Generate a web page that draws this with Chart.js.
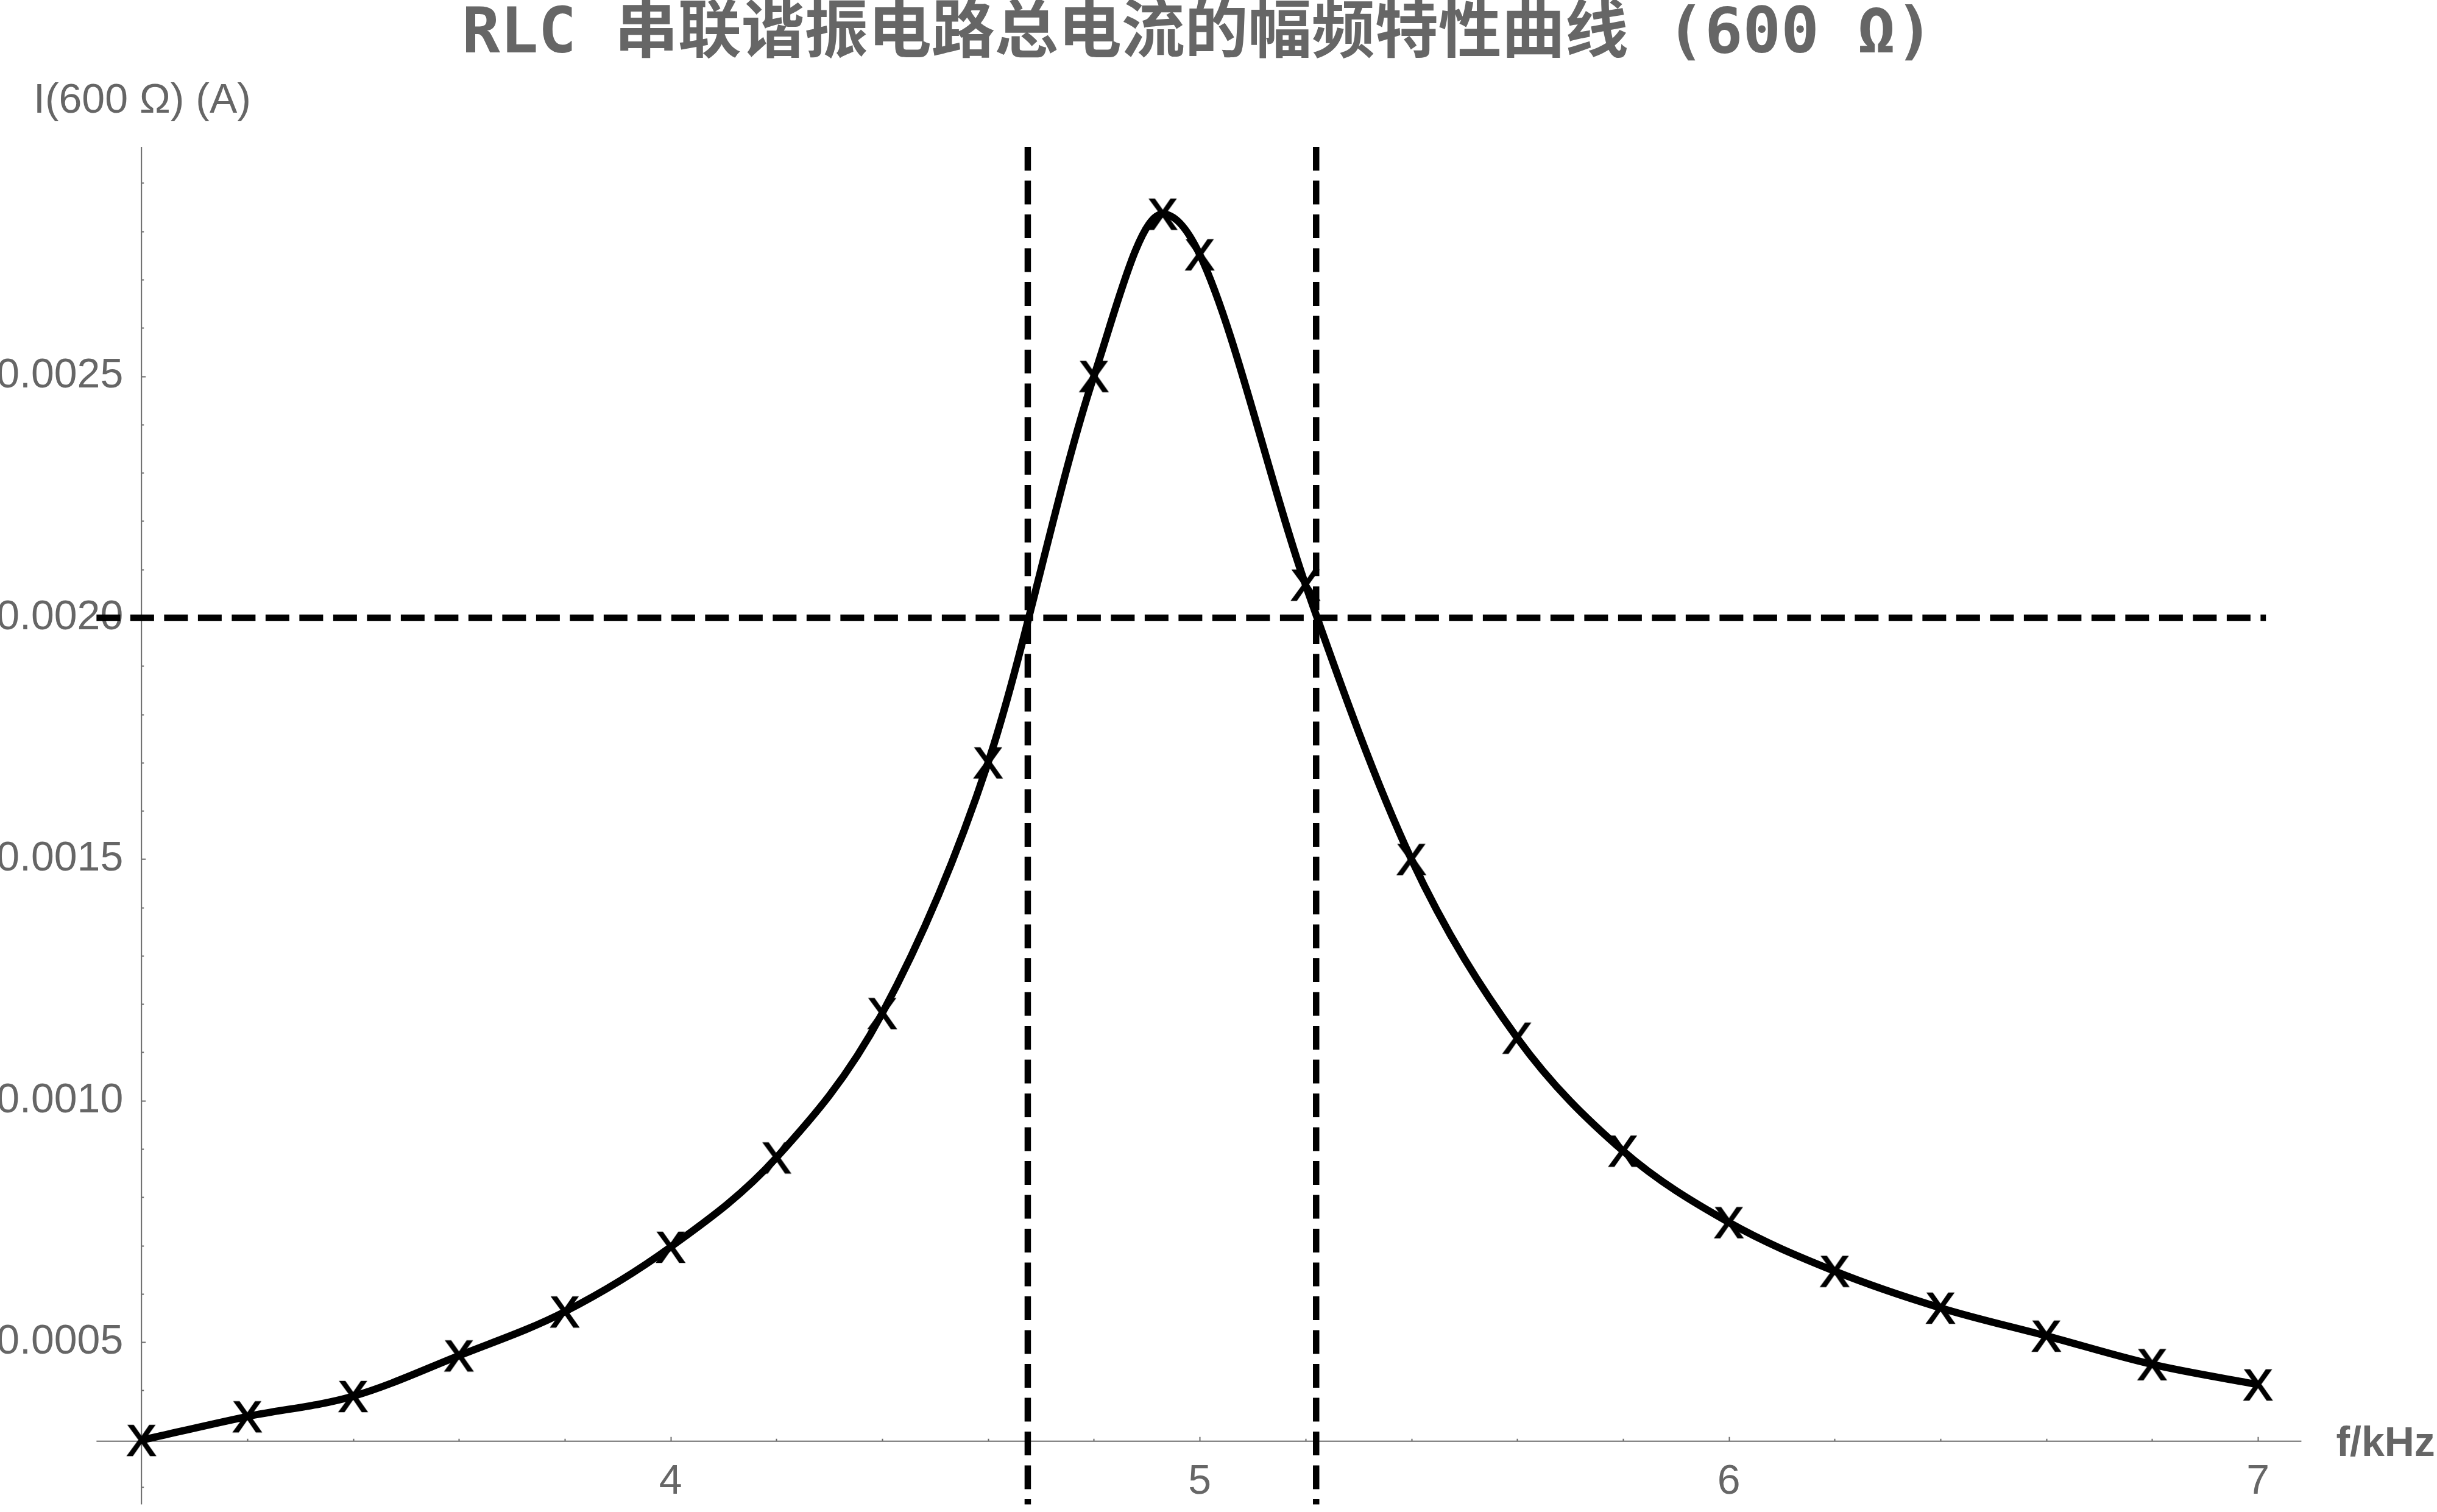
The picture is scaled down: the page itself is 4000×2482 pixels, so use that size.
<!DOCTYPE html>
<html>
<head>
<meta charset="utf-8">
<script src="https://cdn.jsdelivr.net/npm/chart.js@4.4.1/dist/chart.umd.min.js"></script>
<style>
html, body { margin: 0; padding: 0; background: #ffffff; }
#wrap { width: 4000px; height: 2482px; }
</style>
</head>
<body>
<div id="wrap"><canvas id="c" width="4000" height="2482"></canvas></div>
<script>
// ---------- texts ----------
const titleText = 'RLC 串联谐振电路总电流的幅频特性曲线 (600 Ω)';
const yAxisTitle = 'I(600 Ω) (A)';
const xAxisTitle = 'f/kHz';

// ---------- data ----------
const freqKHz = [3.0, 3.2, 3.4, 3.6, 3.8, 4.0, 4.2, 4.4, 4.6, 4.8, 4.93, 5.0, 5.2, 5.4, 5.6, 5.8, 6.0, 6.2, 6.4, 6.6, 6.8, 7.0];
const currentA = [0.000297, 0.000346, 0.000388, 0.000472, 0.000563, 0.000697, 0.000882, 0.001181, 0.00170, 0.00250, 0.002836, 0.002752,
                  0.002068, 0.00150, 0.00113, 0.000896, 0.000748, 0.000647, 0.000571, 0.000513, 0.000454, 0.000412];

// half-power reference lines
const halfPowerFreqs = [4.675, 5.22];
const halfPowerCurrent = 0.002;
const halfPowerLineEndFreq = 7.015;

// ---------- ticks ----------
const xTickValues = [4, 5, 6, 7];
const xTickLabels = ['4', '5', '6', '7'];
const yTickValues = [0.0005, 0.0010, 0.0015, 0.0020, 0.0025];
const yTickLabels = ['0.0005', '0.0010', '0.0015', '0.0020', '0.0025'];
const xMinorStep = 0.2;
const yMinorStep = 0.0001;

// ---------- axes ranges ----------
const xRange = [2.915, 7.082];     // drawn extent of the frequency axis
const yRange = [0.000164, 0.002975]; // drawn extent of the current axis
const axesOrigin = [3, 0.000295];
const xScaleMax = 7.26;

// ---------- styles ----------
const axisColor = '#6b6b6b';
const textColor = '#666666';
const labelFont = '"Liberation Sans", Arial, sans-serif';

// "X" text marker
function makeMarker() {
  const c = document.createElement('canvas');
  c.width = 64; c.height = 64;
  const g = c.getContext('2d');
  g.font = '71px "Liberation Sans", Arial, sans-serif';
  g.fillStyle = '#000000';
  g.strokeStyle = '#000000';
  g.lineWidth = 2.6;
  g.lineJoin = 'miter';
  g.textAlign = 'center';
  g.textBaseline = 'alphabetic';
  const m = g.measureText('X');
  const asc = m.actualBoundingBoxAscent || 50;
  const desc = m.actualBoundingBoxDescent || 0;
  const by = 32 + (asc - desc) / 2;
  g.fillText('X', 32, by);
  g.strokeText('X', 32, by);
  return c;
}
const marker = makeMarker();

const axesPlugin = {
  id: 'mmaAxes',
  beforeDatasetsDraw(chart) {
    const { ctx } = chart;
    const x = chart.scales.x, y = chart.scales.y;
    const ox = x.getPixelForValue(axesOrigin[0]);
    const oy = y.getPixelForValue(axesOrigin[1]);
    ctx.save();
    ctx.strokeStyle = axisColor;
    ctx.lineWidth = 2;
    ctx.beginPath();
    ctx.moveTo(x.getPixelForValue(xRange[0]), oy);
    ctx.lineTo(x.getPixelForValue(xRange[1]), oy);
    ctx.moveTo(ox, y.getPixelForValue(yRange[0]));
    ctx.lineTo(ox, y.getPixelForValue(yRange[1]));
    ctx.stroke();
    // tick marks (inward)
    ctx.beginPath();
    const k0 = Math.ceil((axesOrigin[0] + 1e-9) / xMinorStep);
    const k1 = Math.floor((xRange[1] + 1e-9) / xMinorStep);
    for (let k = k0; k <= k1; k++) {
      const v = k * xMinorStep;
      const major = Math.abs(v - Math.round(v)) < 1e-6;
      const px = Math.round(x.getPixelForValue(v)) + 0.5;
      ctx.moveTo(px, oy);
      ctx.lineTo(px, oy - (major ? 7 : 4));
    }
    const j0 = Math.ceil(yRange[0] / yMinorStep - 1e-6);
    const j1 = Math.floor(yRange[1] / yMinorStep + 1e-6);
    for (let j = j0; j <= j1; j++) {
      const v = j * yMinorStep;
      const major = j % 5 === 0;
      const py = Math.round(y.getPixelForValue(v)) + 0.5;
      ctx.moveTo(ox, py);
      ctx.lineTo(ox + (major ? 7 : 4), py);
    }
    ctx.stroke();
    // axis titles
    ctx.fillStyle = textColor;
    ctx.textBaseline = 'alphabetic';
    ctx.textAlign = 'left';
    ctx.font = '68px ' + labelFont;
    ctx.fillText(yAxisTitle, 55, y.getPixelForValue(yRange[1]) - 56);
    ctx.font = 'bold 68px ' + labelFont;
    ctx.fillText(xAxisTitle, x.getPixelForValue(xRange[1]) + 57, oy + 24);
    ctx.restore();
  }
};

const curveData = freqKHz.map((f, i) => ({ x: f, y: currentA[i] }));
const dashStyle = { borderColor: '#000000', borderWidth: 10.5, borderDash: [39, 16.5], borderCapStyle: 'butt',
                    pointRadius: 0, pointHoverRadius: 0, showLine: true, clip: false, tension: 0 };

const datasets = [
  { label: 'I', data: curveData, showLine: true, borderColor: '#000000', borderWidth: 12,
    borderJoinStyle: 'round', cubicInterpolationMode: 'monotone',
    pointStyle: marker, pointRadius: 25, pointHoverRadius: 25, clip: false, order: 0 }
];
halfPowerFreqs.forEach(f => {
  datasets.push(Object.assign({ label: 'f=' + f, data: [{ x: f, y: yRange[1] }, { x: f, y: yRange[0] }], order: 1 }, dashStyle));
});
datasets.push(Object.assign({ label: 'I=' + halfPowerCurrent,
  data: [{ x: xRange[0], y: halfPowerCurrent }, { x: halfPowerLineEndFreq, y: halfPowerCurrent }], order: 1 }, dashStyle));

new Chart(document.getElementById('c'), {
  type: 'scatter',
  data: { datasets },
  options: {
    responsive: false,
    devicePixelRatio: 1,
    animation: false,
    layout: { padding: { left: 0, right: 68, top: 0, bottom: 0 } },
    plugins: {
      legend: { display: false },
      tooltip: { enabled: false },
      title: {
        display: true, text: titleText, color: textColor,
        font: { family: '"DejaVu Sans Mono", "Noto Sans CJK SC", monospace', size: 104, weight: 'bold', lineHeight: 1.0 },
        padding: { top: 7, bottom: 130 }
      }
    },
    scales: {
      x: {
        type: 'linear', position: 'bottom', min: axesOrigin[0], max: xScaleMax,
        grid: { display: false }, border: { display: false },
        afterBuildTicks: s => { s.ticks = xTickValues.map(v => ({ value: v })); },
        afterFit: s => { s.height = 116.3; },
        ticks: { autoSkip: false, maxRotation: 0, minRotation: 0, padding: 18.5, color: textColor,
                 font: { family: labelFont, size: 68 }, callback: (v, i) => xTickLabels[i] }
      },
      y: {
        type: 'linear', position: 'left', min: axesOrigin[1], max: yRange[1],
        grid: { display: false }, border: { display: false },
        afterBuildTicks: s => { s.ticks = yTickValues.map(v => ({ value: v })); },
        afterFit: s => { s.width = 232.2; },
        ticks: { autoSkip: false, padding: 22, color: textColor,
                 font: { family: labelFont, size: 68 }, callback: (v, i) => yTickLabels[i] }
      }
    }
  },
  plugins: [axesPlugin]
});
</script>
</body>
</html>
